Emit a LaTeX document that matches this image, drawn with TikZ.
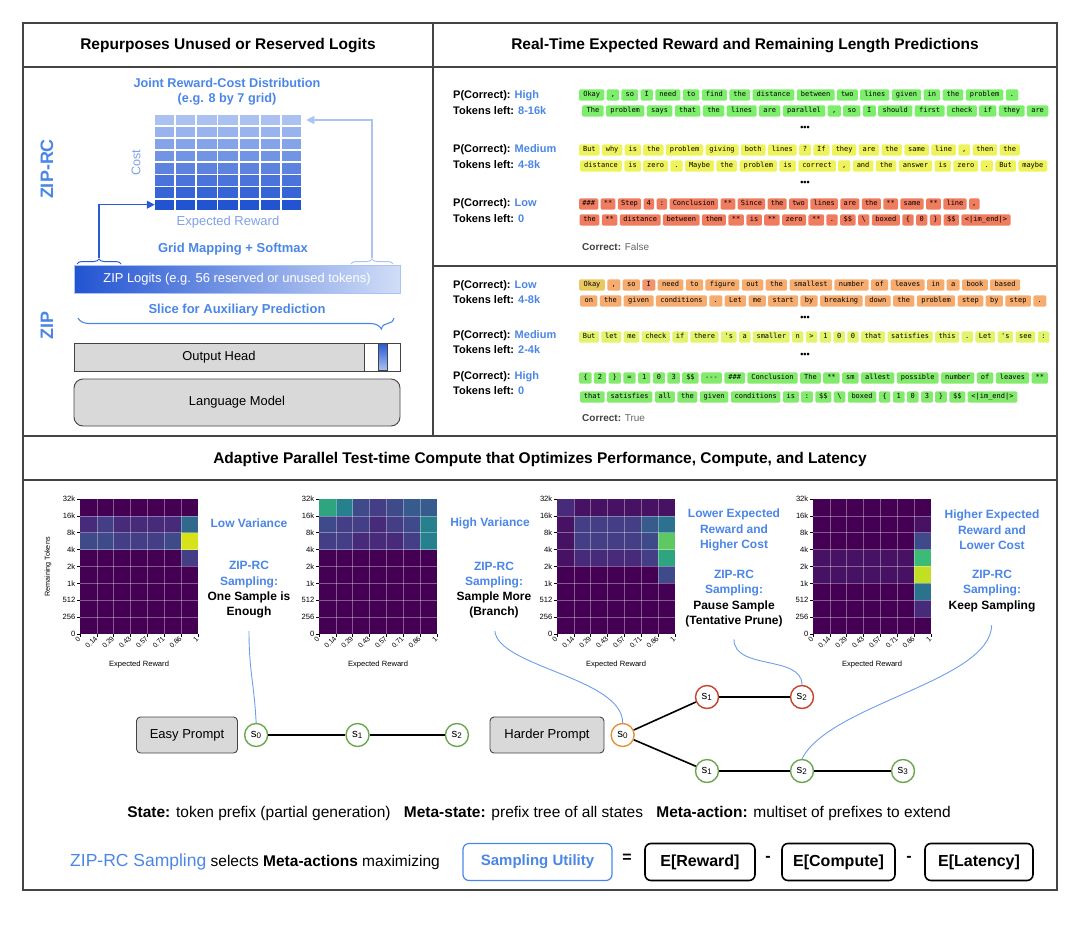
\documentclass[tikz,border=0pt]{standalone}
\usepackage{fontspec}
\setmainfont{Liberation Sans}
\setmonofont{DejaVu Sans Mono}
\usepackage{xcolor}
\usetikzlibrary{positioning,calc,arrows.meta,decorations.pathreplacing}

\definecolor{zipblue}{HTML}{4A86E8}
\definecolor{softblue}{HTML}{7EA1E6}
\definecolor{linkblue}{HTML}{6D9EEB}
\definecolor{paleblue}{HTML}{A9C4F2}
\definecolor{deepblue}{HTML}{2A5AD6}
\definecolor{gridtop}{HTML}{ABC2F1}
\definecolor{gridbot}{HTML}{2254D2}
\definecolor{boxgray}{HTML}{D9D9D9}
\definecolor{rulegray}{HTML}{444444}
\definecolor{tokgreen}{HTML}{7DEE6B}
\definecolor{tokgreenb}{HTML}{84EA6E}
\definecolor{tokyellow}{HTML}{EEF35C}
\definecolor{toklime}{HTML}{E2F36C}
\definecolor{tokcoral}{HTML}{F07C5F}
\definecolor{tokorange}{HTML}{F6AC6E}
\definecolor{tokamber}{HTML}{E9C862}
\definecolor{tokred}{HTML}{F0946E}
\definecolor{stgreen}{HTML}{6AA84F}
\definecolor{stred}{HTML}{C8412A}
\definecolor{storange}{HTML}{E69138}
\definecolor{vA}{HTML}{440154}
\definecolor{vB}{HTML}{471164}
\definecolor{vC}{HTML}{472A7A}
\definecolor{vD}{HTML}{433E85}
\definecolor{vE}{HTML}{3E4A89}
\definecolor{vF}{HTML}{375B8D}
\definecolor{vG}{HTML}{31688E}
\definecolor{vH}{HTML}{2C728E}
\definecolor{vI}{HTML}{27808E}
\definecolor{vK}{HTML}{2FA57F}
\definecolor{vL}{HTML}{3BBB75}
\definecolor{vM}{HTML}{5EC962}
\definecolor{vN}{HTML}{C2DF23}
\definecolor{vO}{HTML}{D8E219}

\tikzset{
  panel/.style={draw=rulegray, line width=1.1pt},
  ttl/.style={font=\fontsize{15.5}{18}\selectfont\bfseries},
  bluehead/.style={font=\fontsize{13}{15}\selectfont\bfseries, text=zipblue, align=center},
  cell/.style={minimum width=19.3pt, minimum height=10.3pt, inner sep=0pt},
  zipbar/.style={minimum width=326pt, minimum height=28pt, left color=gridbot, right color=gridtop!55!white, draw=paleblue, text=white, font=\fontsize{12.9}{15}\selectfont},
  greybox/.style={draw=rulegray, line width=0.9pt, fill=boxgray, font=\fontsize{12.9}{15}\selectfont},
  side/.style={rotate=90, text=zipblue, font=\fontsize{18}{20}\selectfont\bfseries},
  plab/.style={anchor=west, inner sep=0pt, font=\fontsize{11}{13}\selectfont\bfseries},
  tok/.style={rounded corners=1.3pt, inner ysep=2.2pt, text height=5.2pt, text depth=1.5pt, font=\fontsize{7}{8}\ttfamily},
  dotrow/.style={font=\fontsize{9}{10}\selectfont\bfseries},
  verdict/.style={anchor=west, inner sep=0pt, text=black!60, font=\fontsize{10}{12}\selectfont},
  hmgrid/.style={white, opacity=0.35, line width=0.5pt},
  ytick/.style={anchor=east, inner sep=1.5pt, font=\fontsize{7.6}{9}\selectfont},
  xtick/.style={anchor=east, rotate=45, inner sep=0.8pt, font=\fontsize{7}{8}\selectfont},
  axlabel/.style={font=\fontsize{7.6}{9}\selectfont},
  hmhead/.style={align=center, text=zipblue, font=\fontsize{12}{15.3}\selectfont\bfseries},
  hmnote/.style={align=center, font=\fontsize{12}{15.3}\selectfont\bfseries},
  prompt/.style={draw=rulegray, line width=0.9pt, fill=boxgray, rounded corners=4pt, minimum height=36pt, font=\fontsize{13}{15}\selectfont},
  stnode/.style={circle, draw=stgreen, line width=1.4pt, fill=white, minimum size=23pt, inner sep=0pt, font=\fontsize{11.5}{13}\selectfont},
  treeline/.style={black, line width=1.6pt},
  link/.style={linkblue, line width=0.9pt},
  util/.style={draw=zipblue, line width=1.2pt, rounded corners=6pt, minimum width=149pt, minimum height=37pt, text=zipblue, font=\fontsize{15}{18}\selectfont\bfseries},
  term/.style={draw=black, line width=1.6pt, rounded corners=6pt, minimum height=37pt, font=\fontsize{16}{19}\selectfont\bfseries},
  op/.style={font=\fontsize{16}{19}\selectfont\bfseries},
}

\newcommand{\tcomma}{,}
\newcommand{\tokrow}[3]{\foreach \tw in {#3}{\node[tok, inner xsep=#2, fill=#1, right=2pt of tk] (tk) {\tw};}}
\newcommand{\heatmap}[4]{%
  \fill[vA] (#2,#3) rectangle ++(118,134.8);
  \foreach \hc/\hr/\hk in {#4}{\fill[fill=\hk] (#2+\hc*16.857,#3+\hr*16.85) rectangle ++(16.857,16.85);}
  \foreach \hn in {1,...,6}{\draw[hmgrid] (#2+\hn*16.857,#3) -- ++(0,134.8);}
  \foreach \hn in {1,...,7}{\draw[hmgrid] (#2,#3+\hn*16.85) -- ++(118,0);}
  \foreach \lab [count=\hn from 0] in {32k,16k,8k,4k,2k,1k,512,256,0}{\draw[line width=.5pt] (#2,#3+\hn*16.85) -- ++(-3,0) node[ytick] (#1y\hn) {\lab};}
  \foreach \lab [count=\hn from 0] in {0,0.14,0.29,0.43,0.57,0.71,0.86,1}{\draw[line width=.5pt] (#2+\hn*16.857,#3+134.8) -- ++(0,3) node[xtick] (#1x\hn) {\lab};}
  \node[axlabel] (#1xl) at (#2+59,#3+166) {Expected Reward};
}

\begin{document}
\begin{tikzpicture}[x=1pt, y=-1pt]
\useasboundingbox (0,0) rectangle (1079,926);

\draw[panel] (23,23) rectangle (1057,890);
\draw[panel] (23,67) -- (1057,67);
\draw[panel] (433,23) -- (433,436);
\draw[panel] (433,266) -- (1057,266);
\draw[panel] (23,436) -- (1057,436);
\draw[panel] (23,480) -- (1057,480);

\node[ttl] (t1) at (228,46) {Repurposes Unused or Reserved Logits};
\node[ttl] (t2) at (745,46) {Real-Time Expected Reward and Remaining Length Predictions};
\node[ttl] (t3) at (540,459) {Adaptive Parallel Test-time Compute that Optimizes Performance, Compute, and Latency};

% left panel
\node[side] (ziprc) at (47,169) {ZIP-RC};
\node[side] (zip) at (47,325) {ZIP};
\node[bluehead, font=\fontsize{12.7}{15}\selectfont\bfseries] (jrc) at (227,91.5) {Joint Reward-Cost Distribution\\(e.g. 8 by 7 grid)};
\foreach \gr in {0,...,7}{\pgfmathtruncatemacro{\gp}{\gr*100/7}
  \foreach \gc in {0,...,6}{\node[cell, fill=gridbot!\gp!gridtop] (g\gr\gc) at (164.6+\gc*21.14,120+\gr*12.1) {};}}
\node[rotate=90, text=softblue, font=\fontsize{12.6}{14}\selectfont] (cst) at (136,163) {Cost};
\node[text=softblue, font=\fontsize{13}{15}\selectfont] (erw) at (228,222) {Expected Reward};
\node[bluehead] (gms) at (233,249) {Grid Mapping + Softmax};
\node[zipbar] (zl) at (237,279) {ZIP Logits (e.g. 56 reserved or unused tokens)};
\draw[deepblue, line width=1pt, decorate, decoration={brace, amplitude=5pt}] (77,264) -- (121,264);
\draw[paleblue, line width=1pt, decorate, decoration={brace, amplitude=5pt}] (351,264) -- (393,264);
\coordinate (lbt) at (99,258);
\coordinate (rbt) at (372,258);
\draw[deepblue, line width=1.3pt, -{Triangle[length=8pt,width=8pt]}] (lbt) |- (g70.west);
\draw[paleblue, line width=1.3pt, shorten >=5pt, -{Triangle[length=8pt,width=8pt]}] (rbt) |- (g06.east);
\node[bluehead] (slice) at (237,310) {Slice for Auxiliary Prediction};
\draw[zipblue, line width=1.1pt, decorate, decoration={brace, amplitude=11pt, aspect=0.04}] (394,318) -- (78,318);
\node[greybox, minimum width=290pt, minimum height=28pt] (oh) at (219,357) {Output Head};
\node[draw=rulegray, line width=0.9pt, fill=white, minimum width=36pt, minimum height=28pt, right=0pt of oh] (slot) {};
\node[draw=rulegray, line width=0.6pt, top color=deepblue, bottom color=gridtop, minimum width=9pt, minimum height=27pt, inner sep=0pt] (bit) at (382.5,357) {};
\node[greybox, rounded corners=9pt, minimum width=326pt, minimum height=47pt] (lm) at (237,402.5) {Language Model};

% right panel, first example
\node[plab] (pa1) at (453,96) {P(Correct): \textcolor{zipblue}{High}};
\node[plab] (ka1) at (453,111) {Tokens left: \textcolor{zipblue}{8-16k}};
\coordinate (tk) at (577,95);
\tokrow{tokgreen}{4.1pt}{Okay,\tcomma,so,I,need,to,find,the,distance,between,two,lines,given,in,the,problem,.}
\coordinate (tk) at (580,111);
\tokrow{tokgreen}{4.4pt}{The,problem,says,that,the,lines,are,parallel,\tcomma,so,I,should,first,check,if,they,are}
\node[dotrow] (da) at (805,128) {•••};
\node[plab] (pa2) at (453,150) {P(Correct): \textcolor{zipblue}{Medium}};
\node[plab] (ka2) at (453,165) {Tokens left: \textcolor{zipblue}{4-8k}};
\coordinate (tk) at (577,150);
\tokrow{tokyellow}{3.85pt}{But,why,is,the,problem,giving,both,lines,?,If,they,are,the,same,line,\tcomma,then,the}
\coordinate (tk) at (578,166);
\tokrow{tokyellow}{4pt}{distance,is,zero,.,Maybe,the,problem,is,correct,\tcomma,and,the,answer,is,zero,.,But,maybe}
\node[dotrow] (db) at (805,183) {•••};
\node[plab] (pa3) at (453,204) {P(Correct): \textcolor{zipblue}{Low}};
\node[plab] (ka3) at (453,219) {Tokens left: \textcolor{zipblue}{0}};
\coordinate (tk) at (577,204);
\tokrow{tokcoral}{3.2pt}{\#\#\#,**,Step,4,:,Conclusion,**,Since,the,two,lines,are,the,**,same,**,line,\tcomma}
\coordinate (tk) at (577.5,220);
\tokrow{tokcoral}{3.55pt}{the,**,distance,between,them,**,is,**,zero,**,.,\$\$,\textbackslash,boxed,\{,0,\},\$\$,<|im\_end|>}
\node[verdict] (va) at (582,247) {\textbf{\color{black!75}Correct:} False};

% right panel, second example
\node[plab] (pb1) at (453,286) {P(Correct): \textcolor{zipblue}{Low}};
\node[plab] (kb1) at (453,300) {Tokens left: \textcolor{zipblue}{4-8k}};
\coordinate (tk) at (577,285);
\tokrow{tokamber}{4.4pt}{Okay}\tokrow{tokorange}{4.4pt}{\tcomma,so}\tokrow{tokred}{4.4pt}{I}
\tokrow{tokorange}{4.4pt}{need,to,figure,out,the,smallest,number,of,leaves,in,a,book,based}
\coordinate (tk) at (578,301);
\tokrow{tokorange}{4.4pt}{on,the,given,conditions,.,Let,me,start,by,breaking,down,the,problem,step,by,step,.}
\node[dotrow] (dc) at (805,318) {•••};
\node[plab] (pb2) at (453,336) {P(Correct): \textcolor{zipblue}{Medium}};
\node[plab] (kb2) at (453,350) {Tokens left: \textcolor{zipblue}{2-4k}};
\coordinate (tk) at (577,337);
\tokrow{toklime}{3.6pt}{But,let,me,check,if,there,'s,a,smaller,n,>,1,0,0,that,satisfies,this,.,Let,'s,see,:}
\node[dotrow] (dd) at (805,355) {•••};
\node[plab] (pb3) at (453,377) {P(Correct): \textcolor{zipblue}{High}};
\node[plab] (kb3) at (453,391) {Tokens left: \textcolor{zipblue}{0}};
\coordinate (tk) at (577,378);
\tokrow{tokgreenb}{4.05pt}{\{,2,\},=,1,0,3,\$\$,---,\#\#\#,Conclusion,The,**,sm,allest,possible,number,of,leaves,**}
\coordinate (tk) at (578,397);
\tokrow{tokgreenb}{3.75pt}{that,satisfies,all,the,given,conditions,is,:,\$\$,\textbackslash,boxed,\{,1,0,3,\},\$\$,<|im\_end|>}
\node[verdict] (vb) at (582,418) {\textbf{\color{black!75}Correct:} True};

% heatmaps
\heatmap{ha}{80}{499}{0/1/vC,1/1/vD,2/1/vC,3/1/vC,4/1/vC,5/1/vC,6/1/vG,0/2/vE,1/2/vE,2/2/vD,3/2/vD,4/2/vD,5/2/vE,6/2/vO,6/3/vD}
\heatmap{hb}{319}{499}{0/0/vK,1/0/vI,2/0/vE,3/0/vD,4/0/vE,5/0/vF,6/0/vF,0/1/vE,1/1/vD,2/1/vD,3/1/vC,4/1/vD,5/1/vE,6/1/vI,0/2/vD,1/2/vD,2/2/vC,3/2/vC,4/2/vC,5/2/vD,6/2/vI}
\heatmap{hc}{557}{499}{0/0/vC,1/0/vB,2/0/vB,3/0/vB,4/0/vB,5/0/vB,6/0/vB,0/1/vB,1/1/vD,2/1/vD,3/1/vD,4/1/vD,5/1/vF,6/1/vH,0/2/vB,1/2/vD,2/2/vD,3/2/vD,4/2/vD,5/2/vE,6/2/vM,0/3/vB,1/3/vC,2/3/vC,3/3/vC,4/3/vC,5/3/vD,6/3/vK,6/4/vE}
\heatmap{hd}{813}{499}{6/1/vB,6/2/vE,0/3/vB,1/3/vB,2/3/vB,3/3/vB,4/3/vB,5/3/vB,6/3/vL,0/4/vB,1/4/vB,2/4/vB,3/4/vB,4/4/vB,5/4/vB,6/4/vN,6/5/vH,6/6/vC}
\node[rotate=90, font=\fontsize{7.2}{8}\selectfont] (rtk) at (48,567) {Remaining Tokens};

\node[hmhead] (lv) at (249,523) {Low Variance};
\node[hmnote] (na) at (249,590) {\textcolor{zipblue}{ZIP-RC}\\\textcolor{zipblue}{Sampling:}\\One Sample is\\Enough};
\node[hmhead] (hv) at (490,523) {High Variance};
\node[hmnote] (nb) at (494,590) {\textcolor{zipblue}{ZIP-RC}\\\textcolor{zipblue}{Sampling:}\\Sample More\\(Branch)};
\node[hmhead] (lec) at (734,530) {Lower Expected\\Reward and\\Higher Cost};
\node[hmnote] (nc) at (734,598.5) {\textcolor{zipblue}{ZIP-RC}\\\textcolor{zipblue}{Sampling:}\\Pause Sample\\(Tentative Prune)};
\node[hmhead] (hec) at (992,530) {Higher Expected\\Reward and\\Lower Cost};
\node[hmnote] (nd) at (992,591) {\textcolor{zipblue}{ZIP-RC}\\\textcolor{zipblue}{Sampling:}\\Keep Sampling};

% trees
\node[prompt, minimum width=101pt] (ep) at (187,735) {Easy Prompt};
\node[stnode, right=6pt of ep] (ea0) {s\textsubscript{0}};
\node[stnode, right=77pt of ea0] (ea1) {s\textsubscript{1}};
\node[stnode, right=75pt of ea1] (ea2) {s\textsubscript{2}};
\node[prompt, minimum width=114pt] (hp) at (547,735) {Harder Prompt};
\node[stnode, draw=storange, right=6pt of hp] (hb0) {s\textsubscript{0}};
\node[stnode, draw=stred] (hu1) at (707,697) {s\textsubscript{1}};
\node[stnode, draw=stred] (hu2) at (802,697) {s\textsubscript{2}};
\node[stnode] (hl1) at (707,771) {s\textsubscript{1}};
\node[stnode] (hl2) at (802,771) {s\textsubscript{2}};
\node[stnode] (hl3) at (903,771) {s\textsubscript{3}};
\draw[treeline] (ea0) -- (ea1) -- (ea2);
\draw[treeline] (hb0) -- (hu1) -- (hu2);
\draw[treeline] (hb0) -- (hl1) -- (hl2) -- (hl3);

\draw[link, shorten <=9pt] (na.south) .. controls +(0,50) and +(-2,-40) .. (ea0.north);
\draw[link, shorten <=9pt] (nb.south) .. controls +(4,45) and +(0,-45) .. (hb0.north);
\draw[link, shorten <=9pt] (nc.south) .. controls +(0,40) and +(0,-30) .. (hu2.north);
\draw[link, shorten <=10pt] (nd.south) .. controls +(-2,66) and +(28,-55) .. (hl2.north);

% bottom lines
\node[font=\fontsize{15.5}{18}\selectfont] (st) at (539,813) {\textbf{State:} token prefix (partial generation)\hspace{9pt} \textbf{Meta-state:} prefix tree of all states\hspace{9pt} \textbf{Meta-action:} multiset of prefixes to extend};
\node[anchor=west, inner sep=0pt, font=\fontsize{15.5}{18}\selectfont] (zs) at (70,862) {{\fontsize{17.5}{20}\selectfont\textcolor{zipblue}{ZIP-RC Sampling}} selects \textbf{Meta-actions} maximizing};
\node[util] (su) at (537.5,862) {Sampling Utility};
\node[op] (eqs) at (627,858) {=};
\node[term, minimum width=110pt] (tr) at (700,862) {E[Reward]};
\node[op] (mia) at (768,859) {-};
\node[term, minimum width=113pt] (tc) at (838.5,862) {E[Compute]};
\node[op] (mib) at (909,859) {-};
\node[term, minimum width=108pt] (tl) at (979,862) {E[Latency]};
\end{tikzpicture}
\end{document}
